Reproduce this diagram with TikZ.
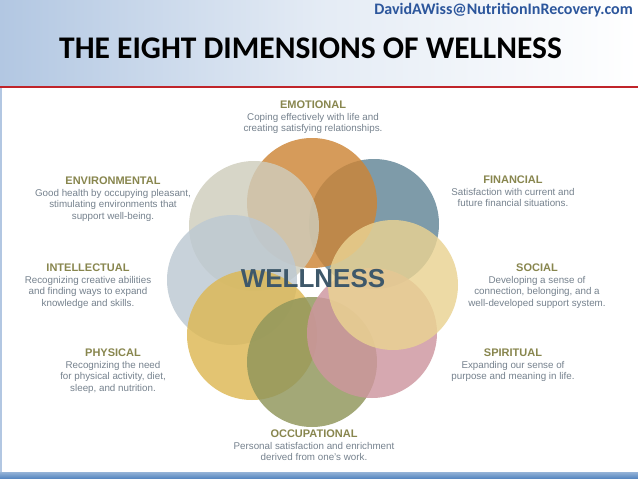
\documentclass[tikz,border=0pt]{standalone}
\usepackage{fontspec}
\setmainfont{Liberation Sans}
\newfontfamily\calibri{Carlito}
\definecolor{hdrblue}{RGB}{178,199,226}
\definecolor{mailblue}{RGB}{44,86,156}
\definecolor{rulered}{RGB}{192,36,42}
\definecolor{barblue}{RGB}{79,129,189}
\definecolor{headolive}{RGB}{136,134,78}
\definecolor{bodygrey}{RGB}{118,130,142}
\definecolor{wellblue}{RGB}{62,88,106}
\definecolor{emocol}{RGB}{205,133,54}
\definecolor{fincol}{RGB}{98,133,151}
\definecolor{envcol}{RGB}{207,205,188}
\definecolor{intcol}{RGB}{189,201,210}
\definecolor{phycol}{RGB}{221,184,83}
\definecolor{occcol}{RGB}{143,149,90}
\definecolor{spicol}{RGB}{206,150,159}
\definecolor{soccol}{RGB}{234,211,146}
\newcommand{\dimhead}[1]{{\fontsize{11}{11.5}\selectfont\bfseries\color{headolive}#1}}

\begin{document}
\begin{tikzpicture}[x=1pt,y=-1pt,
			ring/.style = {circle,minimum size=130pt,inner sep=0pt,fill opacity=.82},
			dimtext/.style = {align=center,anchor=north,inner sep=0pt,text=bodygrey,font=\fontsize{9.8}{11.5}\selectfont}]

\useasboundingbox (0,0) rectangle (638,479);
\fill[white] (0,0) rectangle (638,479);
\shade[left color=hdrblue,right color=white,middle color=hdrblue!35] (0,0) rectangle (638,86);
\draw[rulered,line width=1.6pt] (0,87) -- (638,87);
\draw[hdrblue,line width=2pt] (1,88) -- (1,472);
\shade[top color=barblue!60,bottom color=barblue] (0,472) rectangle (638,479);

\node[anchor=east,inner sep=0pt,text=mailblue,font=\calibri\bfseries\fontsize{16}{16}\selectfont] (mail) at (633,10) {DavidAWiss@NutritionInRecovery.com};
\node[anchor=base west,inner sep=0pt,font=\calibri\bfseries\fontsize{31.5}{32}\selectfont] (title) at (59,58) {THE EIGHT DIMENSIONS OF WELLNESS};

\node[ring,fill=fincol] (c-financial) at (374,224) {};
\node[ring,fill=emocol] (c-emotional) at (312,203) {};
\node[ring,fill=envcol] (c-environmental) at (254,226) {};
\node[ring,fill=intcol] (c-intellectual) at (232,280) {};
\node[ring,fill=phycol] (c-physical) at (252,335) {};
\node[ring,fill=occcol] (c-occupational) at (312,362) {};
\node[ring,fill=spicol] (c-spiritual) at (372,333) {};
\node[ring,fill=soccol] (c-social) at (393,285) {};

\node[text=wellblue,font=\bfseries\fontsize{26}{26}\selectfont,inner sep=0pt] (wellness) at (313,279) {WELLNESS};

\node[dimtext] (emotional) at (313,101) {\dimhead{EMOTIONAL}\\Coping effectively with life and\\creating satisfying relationships.};
\node[dimtext] (financial) at (513,176) {\dimhead{FINANCIAL}\\Satisfaction with current and\\future financial situations.};
\node[dimtext] (social) at (537,264) {\dimhead{SOCIAL}\\Developing a sense of\\connection, belonging, and a\\well-developed support system.};
\node[dimtext] (spiritual) at (513,349) {\dimhead{SPIRITUAL}\\Expanding our sense of\\purpose and meaning in life.};
\node[dimtext] (occupational) at (314,430) {\dimhead{OCCUPATIONAL}\\Personal satisfaction and enrichment\\derived from one’s work.};
\node[dimtext] (physical) at (113,349) {\dimhead{PHYSICAL}\\Recognizing the need\\for physical activity, diet,\\sleep, and nutrition.};
\node[dimtext] (intellectual) at (88,264) {\dimhead{INTELLECTUAL}\\Recognizing creative abilities\\and finding ways to expand\\knowledge and skills.};
\node[dimtext] (environmental) at (113,177) {\dimhead{ENVIRONMENTAL}\\Good health by occupying pleasant,\\stimulating environments that\\support well-being.};

\end{tikzpicture}
\end{document}
